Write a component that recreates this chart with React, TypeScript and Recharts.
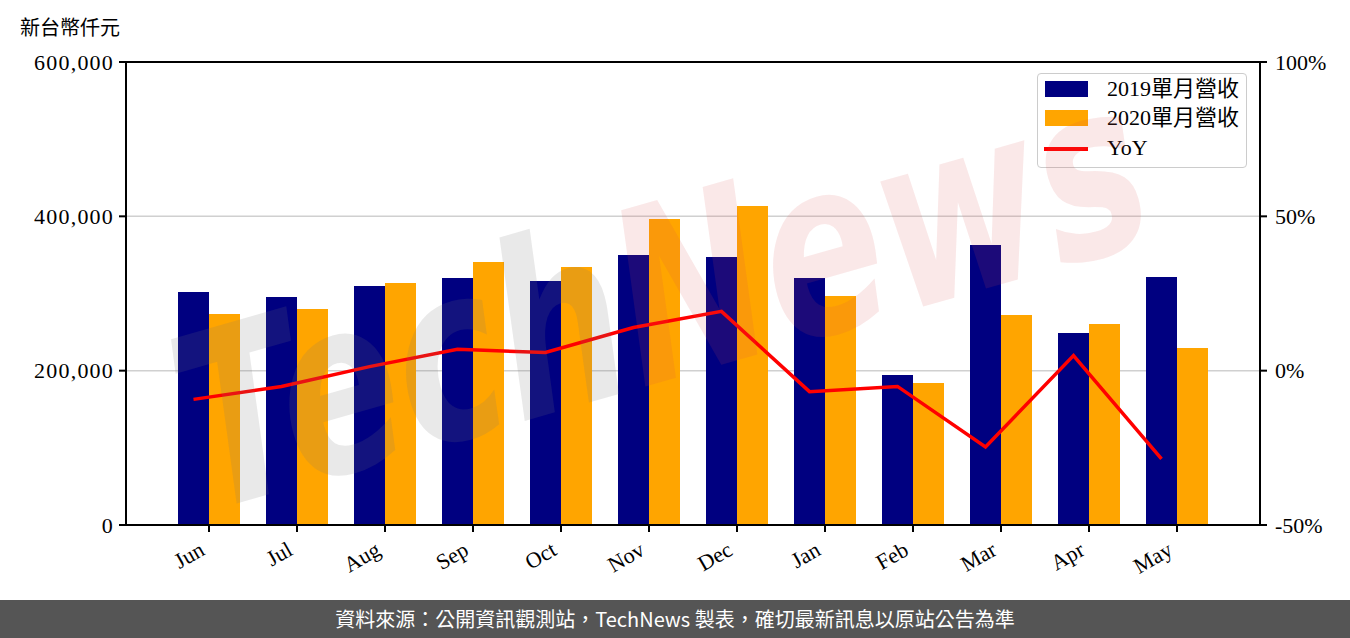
import React from 'react';
import { ComposedChart, Bar, Line, XAxis, YAxis, CartesianGrid, Legend, ReferenceLine } from 'recharts';

const months = ['Jun', 'Jul', 'Aug', 'Sep', 'Oct', 'Nov', 'Dec', 'Jan', 'Feb', 'Mar', 'Apr', 'May'];
const rev2019 = [302000, 295500, 309700, 320100, 316200, 349900, 347300, 320100, 194400, 362900, 248800, 321400];
const rev2020 = [273500, 279900, 313600, 340800, 334400, 396600, 413400, 296800, 184000, 272200, 260500, 229400];
const yoy = [-9.3, -5.1, 1.3, 6.9, 5.9, 14.0, 19.2, -6.8, -5.1, -24.7, 4.9, -28.6];
const leftTicks = [0, 200000, 400000, 600000];
const rightTicks = [-50, 0, 50, 100];
const seriesNames = ['2019單月營收', '2020單月營收', 'YoY'];

const data = months.map((m, i) => ({ month: m, r2019: rev2019[i], r2020: rev2020[i], yoy: yoy[i] }));

const SERIF = '"Liberation Serif", "Noto Sans CJK TC", serif';
const SANS_CJK = '"Noto Sans CJK TC", "Noto Sans", sans-serif';

const XTick = (props: any) => {
  const { x, y, payload } = props;
  const ax = x - 3;
  const ay = y + 20;
  return (
    <text x={ax} y={ay} transform={`rotate(-30, ${ax}, ${ay})`} textAnchor="end" fontFamily={SERIF} fontSize={22} fill="#000">
      {payload.value}
    </text>
  );
};

const LegendBox = () => {
  const textStyle: React.CSSProperties = {
    position: 'absolute', left: 69, fontFamily: SERIF, fontSize: 22, lineHeight: '22px', color: '#000', whiteSpace: 'nowrap',
  };
  return (
    <div style={{ position: 'relative', width: 210, height: 95, border: '1.5px solid #cccccc', borderRadius: 4, background: 'rgba(255,255,255,0.85)', boxSizing: 'border-box' }}>
      <div style={{ position: 'absolute', left: 7, top: 7, width: 43, height: 16, background: '#000080' }} />
      <div style={{ ...textStyle, top: 4 }}>{seriesNames[0]}</div>
      <div style={{ position: 'absolute', left: 7, top: 36, width: 43, height: 16, background: '#FFA500' }} />
      <div style={{ ...textStyle, top: 33 }}>{seriesNames[1]}</div>
      <div style={{ position: 'absolute', left: 6, top: 73, width: 44, height: 3.5, background: '#FF0000' }} />
      <div style={{ ...textStyle, top: 63 }}>{seriesNames[2]}</div>
    </div>
  );
};

export default function App() {
  return (
    <div style={{ position: 'absolute', left: 0, top: 0, width: 1350, height: 638, background: '#fff', overflow: 'hidden' }}>
      <div style={{ position: 'absolute', left: 20, top: 17, fontFamily: SANS_CJK, fontSize: 20, lineHeight: '20px', color: '#000' }}>新台幣仟元</div>
      <div style={{ position: 'absolute', left: 0, top: 0 }}>
        <ComposedChart width={1350} height={600} data={data} margin={{ top: 62, right: 10, bottom: 15, left: 26 }} barGap={0}>
          <CartesianGrid xAxisId="bar" yAxisId="left" vertical={false} stroke="#d0d0d0" strokeWidth={1.5} />
          <XAxis xAxisId="bar" dataKey="month" interval={0} padding={{ left: 39, right: 39 }} height={60}
            axisLine={{ stroke: '#000', strokeWidth: 2 }} tickLine={{ stroke: '#000', strokeWidth: 2 }} tickSize={7} tick={<XTick />} />
          <XAxis xAxisId="line" dataKey="month" hide padding={{ left: 23.5, right: 54.5 }} />
          <YAxis yAxisId="left" width={100} domain={[0, 600000]} ticks={leftTicks} interval={0}
            tickFormatter={(v: number) => v.toLocaleString('en-US')}
            axisLine={{ stroke: '#000', strokeWidth: 2 }} tickLine={{ stroke: '#000', strokeWidth: 2 }} tickSize={7} tickMargin={5}
            tick={{ fill: '#000', fontSize: 22, fontFamily: SERIF, letterSpacing: 1.2 }} />
          <YAxis yAxisId="right" orientation="right" width={80} domain={[-50, 100]} ticks={rightTicks} interval={0}
            tickFormatter={(v: number) => `${v}%`}
            axisLine={{ stroke: '#000', strokeWidth: 2 }} tickLine={{ stroke: '#000', strokeWidth: 2 }} tickSize={7} tickMargin={8}
            tick={{ fill: '#000', fontSize: 22, fontFamily: SERIF }} />
          <ReferenceLine xAxisId="bar" yAxisId="left" y={600000} stroke="#000" strokeWidth={2} />
          <Bar xAxisId="bar" yAxisId="left" dataKey="r2019" name={seriesNames[0]} fill="#000080" barSize={31} isAnimationActive={false} />
          <Bar xAxisId="bar" yAxisId="left" dataKey="r2020" name={seriesNames[1]} fill="#FFA500" barSize={31} isAnimationActive={false} />
          <Line xAxisId="line" yAxisId="right" dataKey="yoy" name={seriesNames[2]} type="linear" stroke="#FF0000" strokeWidth={3.5} dot={false} isAnimationActive={false} />
          <Legend layout="vertical" align="center" verticalAlign="middle" content={<LegendBox />}
            wrapperStyle={{ left: 1037, top: 73, width: 210, height: 95 }} />
        </ComposedChart>
      </div>
      <svg width={1350} height={600} style={{ position: 'absolute', left: 0, top: 0, pointerEvents: 'none' }}>
        <g transform="translate(660, 290) rotate(-16) scale(0.85, 1.15)">
          <text x={0} y={77} textAnchor="middle" fontFamily="DejaVu Sans" fontWeight="bold" fontStyle="italic" fontSize={210}>
            <tspan fill="rgba(120,120,120,0.16)">Tech</tspan>
            <tspan fill="rgba(220,80,80,0.13)">News</tspan>
          </text>
        </g>
      </svg>
      <div style={{ position: 'absolute', left: 0, top: 600, width: 1350, height: 38, background: '#555555', color: '#fff', fontFamily: SANS_CJK, fontSize: 20, lineHeight: '38px', textAlign: 'center', whiteSpace: 'nowrap' }}>
        資料來源：公開資訊觀測站，TechNews 製表，確切最新訊息以原站公告為準
      </div>
    </div>
  );
}
